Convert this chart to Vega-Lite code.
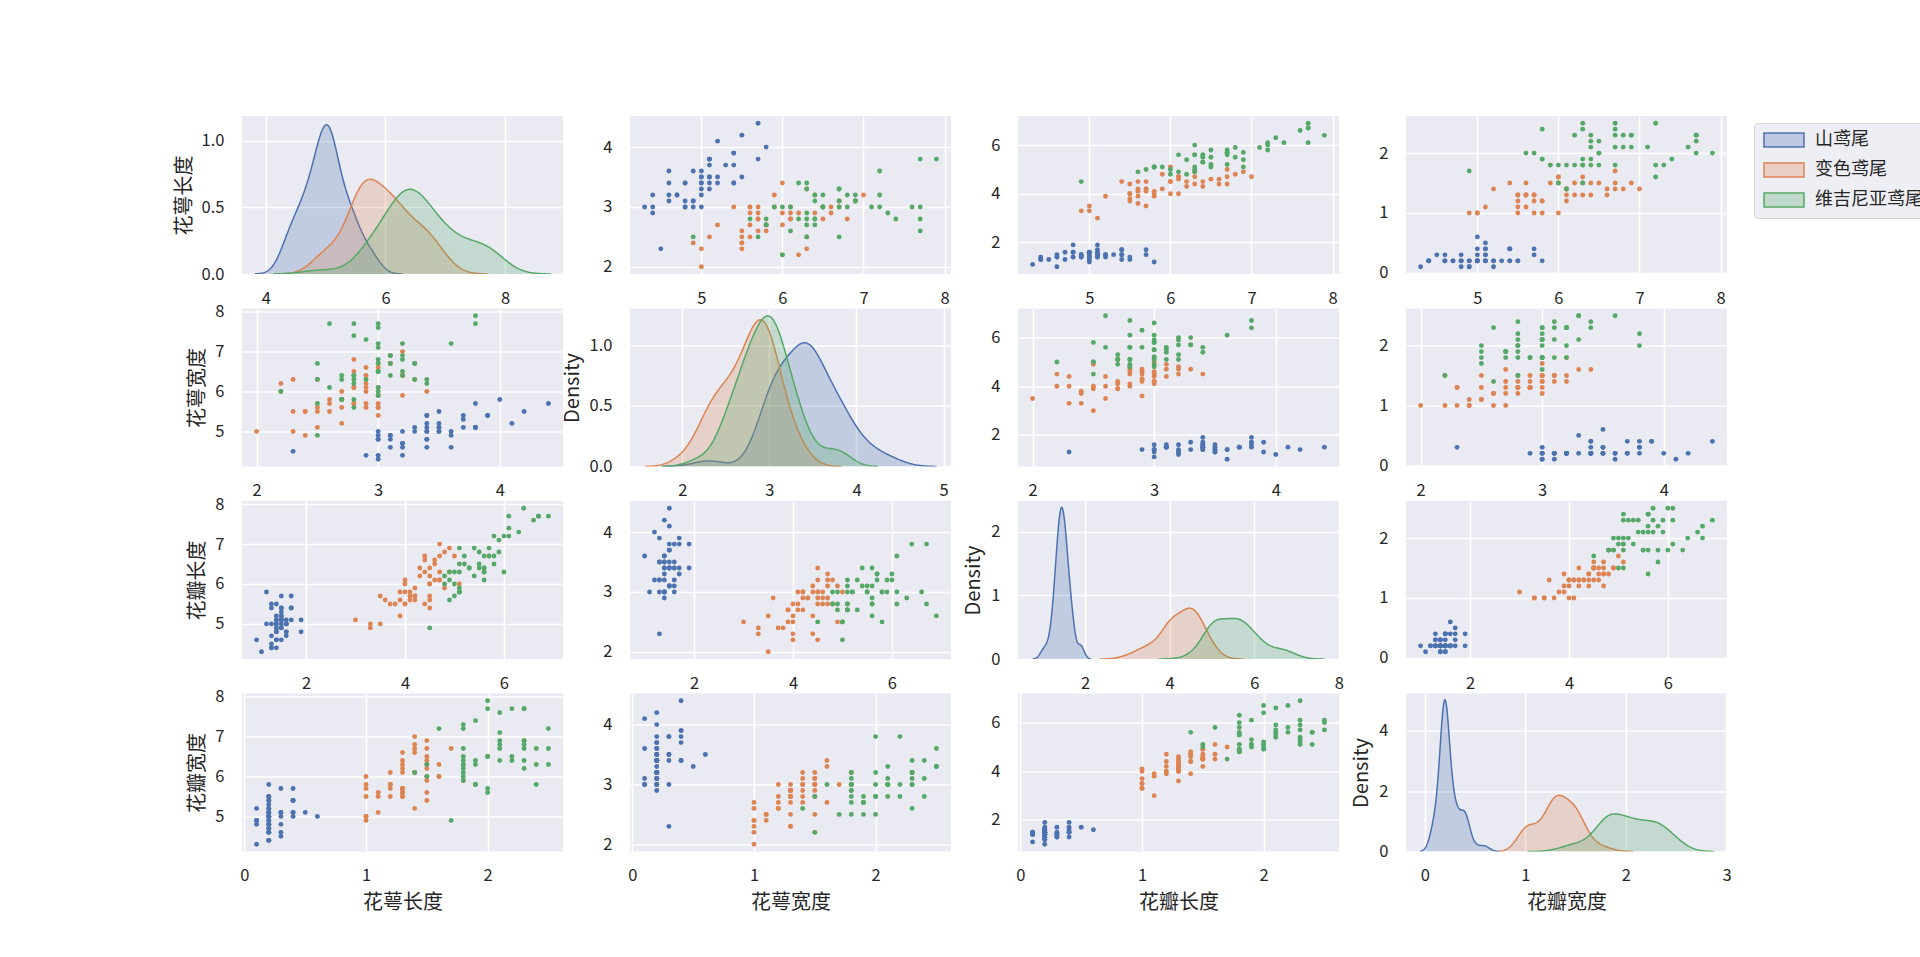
{
"$schema": "https://vega.github.io/schema/vega-lite/v6.json",
"padding": {"left": 174, "top": 116, "right": 0, "bottom": 20},
"background": "#ffffff",
"datasets": {"iris": [
{"species":"山鸢尾","sl":5.1,"sw":3.5,"pl":1.4,"pw":0.2},
{"species":"山鸢尾","sl":4.9,"sw":3.0,"pl":1.4,"pw":0.2},
{"species":"山鸢尾","sl":4.7,"sw":3.2,"pl":1.3,"pw":0.2},
{"species":"山鸢尾","sl":4.6,"sw":3.1,"pl":1.5,"pw":0.2},
{"species":"山鸢尾","sl":5.0,"sw":3.6,"pl":1.4,"pw":0.2},
{"species":"山鸢尾","sl":5.4,"sw":3.9,"pl":1.7,"pw":0.4},
{"species":"山鸢尾","sl":4.6,"sw":3.4,"pl":1.4,"pw":0.3},
{"species":"山鸢尾","sl":5.0,"sw":3.4,"pl":1.5,"pw":0.2},
{"species":"山鸢尾","sl":4.4,"sw":2.9,"pl":1.4,"pw":0.2},
{"species":"山鸢尾","sl":4.9,"sw":3.1,"pl":1.5,"pw":0.1},
{"species":"山鸢尾","sl":5.4,"sw":3.7,"pl":1.5,"pw":0.2},
{"species":"山鸢尾","sl":4.8,"sw":3.4,"pl":1.6,"pw":0.2},
{"species":"山鸢尾","sl":4.8,"sw":3.0,"pl":1.4,"pw":0.1},
{"species":"山鸢尾","sl":4.3,"sw":3.0,"pl":1.1,"pw":0.1},
{"species":"山鸢尾","sl":5.8,"sw":4.0,"pl":1.2,"pw":0.2},
{"species":"山鸢尾","sl":5.7,"sw":4.4,"pl":1.5,"pw":0.4},
{"species":"山鸢尾","sl":5.4,"sw":3.9,"pl":1.3,"pw":0.4},
{"species":"山鸢尾","sl":5.1,"sw":3.5,"pl":1.4,"pw":0.3},
{"species":"山鸢尾","sl":5.7,"sw":3.8,"pl":1.7,"pw":0.3},
{"species":"山鸢尾","sl":5.1,"sw":3.8,"pl":1.5,"pw":0.3},
{"species":"山鸢尾","sl":5.4,"sw":3.4,"pl":1.7,"pw":0.2},
{"species":"山鸢尾","sl":5.1,"sw":3.7,"pl":1.5,"pw":0.4},
{"species":"山鸢尾","sl":4.6,"sw":3.6,"pl":1.0,"pw":0.2},
{"species":"山鸢尾","sl":5.1,"sw":3.3,"pl":1.7,"pw":0.5},
{"species":"山鸢尾","sl":4.8,"sw":3.4,"pl":1.9,"pw":0.2},
{"species":"山鸢尾","sl":5.0,"sw":3.0,"pl":1.6,"pw":0.2},
{"species":"山鸢尾","sl":5.0,"sw":3.4,"pl":1.6,"pw":0.4},
{"species":"山鸢尾","sl":5.2,"sw":3.5,"pl":1.5,"pw":0.2},
{"species":"山鸢尾","sl":5.2,"sw":3.4,"pl":1.4,"pw":0.2},
{"species":"山鸢尾","sl":4.7,"sw":3.2,"pl":1.6,"pw":0.2},
{"species":"山鸢尾","sl":4.8,"sw":3.1,"pl":1.6,"pw":0.2},
{"species":"山鸢尾","sl":5.4,"sw":3.4,"pl":1.5,"pw":0.4},
{"species":"山鸢尾","sl":5.2,"sw":4.1,"pl":1.5,"pw":0.1},
{"species":"山鸢尾","sl":5.5,"sw":4.2,"pl":1.4,"pw":0.2},
{"species":"山鸢尾","sl":4.9,"sw":3.1,"pl":1.5,"pw":0.2},
{"species":"山鸢尾","sl":5.0,"sw":3.2,"pl":1.2,"pw":0.2},
{"species":"山鸢尾","sl":5.5,"sw":3.5,"pl":1.3,"pw":0.2},
{"species":"山鸢尾","sl":4.9,"sw":3.6,"pl":1.4,"pw":0.1},
{"species":"山鸢尾","sl":4.4,"sw":3.0,"pl":1.3,"pw":0.2},
{"species":"山鸢尾","sl":5.1,"sw":3.4,"pl":1.5,"pw":0.2},
{"species":"山鸢尾","sl":5.0,"sw":3.5,"pl":1.3,"pw":0.3},
{"species":"山鸢尾","sl":4.5,"sw":2.3,"pl":1.3,"pw":0.3},
{"species":"山鸢尾","sl":4.4,"sw":3.2,"pl":1.3,"pw":0.2},
{"species":"山鸢尾","sl":5.0,"sw":3.5,"pl":1.6,"pw":0.6},
{"species":"山鸢尾","sl":5.1,"sw":3.8,"pl":1.9,"pw":0.4},
{"species":"山鸢尾","sl":4.8,"sw":3.0,"pl":1.4,"pw":0.3},
{"species":"山鸢尾","sl":5.1,"sw":3.8,"pl":1.6,"pw":0.2},
{"species":"山鸢尾","sl":4.6,"sw":3.2,"pl":1.4,"pw":0.2},
{"species":"山鸢尾","sl":5.3,"sw":3.7,"pl":1.5,"pw":0.2},
{"species":"山鸢尾","sl":5.0,"sw":3.3,"pl":1.4,"pw":0.2},
{"species":"变色鸢尾","sl":7.0,"sw":3.2,"pl":4.7,"pw":1.4},
{"species":"变色鸢尾","sl":6.4,"sw":3.2,"pl":4.5,"pw":1.5},
{"species":"变色鸢尾","sl":6.9,"sw":3.1,"pl":4.9,"pw":1.5},
{"species":"变色鸢尾","sl":5.5,"sw":2.3,"pl":4.0,"pw":1.3},
{"species":"变色鸢尾","sl":6.5,"sw":2.8,"pl":4.6,"pw":1.5},
{"species":"变色鸢尾","sl":5.7,"sw":2.8,"pl":4.5,"pw":1.3},
{"species":"变色鸢尾","sl":6.3,"sw":3.3,"pl":4.7,"pw":1.6},
{"species":"变色鸢尾","sl":4.9,"sw":2.4,"pl":3.3,"pw":1.0},
{"species":"变色鸢尾","sl":6.6,"sw":2.9,"pl":4.6,"pw":1.3},
{"species":"变色鸢尾","sl":5.2,"sw":2.7,"pl":3.9,"pw":1.4},
{"species":"变色鸢尾","sl":5.0,"sw":2.0,"pl":3.5,"pw":1.0},
{"species":"变色鸢尾","sl":5.9,"sw":3.0,"pl":4.2,"pw":1.5},
{"species":"变色鸢尾","sl":6.0,"sw":2.2,"pl":4.0,"pw":1.0},
{"species":"变色鸢尾","sl":6.1,"sw":2.9,"pl":4.7,"pw":1.4},
{"species":"变色鸢尾","sl":5.6,"sw":2.9,"pl":3.6,"pw":1.3},
{"species":"变色鸢尾","sl":6.7,"sw":3.1,"pl":4.4,"pw":1.4},
{"species":"变色鸢尾","sl":5.6,"sw":3.0,"pl":4.5,"pw":1.5},
{"species":"变色鸢尾","sl":5.8,"sw":2.7,"pl":4.1,"pw":1.0},
{"species":"变色鸢尾","sl":6.2,"sw":2.2,"pl":4.5,"pw":1.5},
{"species":"变色鸢尾","sl":5.6,"sw":2.5,"pl":3.9,"pw":1.1},
{"species":"变色鸢尾","sl":5.9,"sw":3.2,"pl":4.8,"pw":1.8},
{"species":"变色鸢尾","sl":6.1,"sw":2.8,"pl":4.0,"pw":1.3},
{"species":"变色鸢尾","sl":6.3,"sw":2.5,"pl":4.9,"pw":1.5},
{"species":"变色鸢尾","sl":6.1,"sw":2.8,"pl":4.7,"pw":1.2},
{"species":"变色鸢尾","sl":6.4,"sw":2.9,"pl":4.3,"pw":1.3},
{"species":"变色鸢尾","sl":6.6,"sw":3.0,"pl":4.4,"pw":1.4},
{"species":"变色鸢尾","sl":6.8,"sw":2.8,"pl":4.8,"pw":1.4},
{"species":"变色鸢尾","sl":6.7,"sw":3.0,"pl":5.0,"pw":1.7},
{"species":"变色鸢尾","sl":6.0,"sw":2.9,"pl":4.5,"pw":1.5},
{"species":"变色鸢尾","sl":5.7,"sw":2.6,"pl":3.5,"pw":1.0},
{"species":"变色鸢尾","sl":5.5,"sw":2.4,"pl":3.8,"pw":1.1},
{"species":"变色鸢尾","sl":5.5,"sw":2.4,"pl":3.7,"pw":1.0},
{"species":"变色鸢尾","sl":5.8,"sw":2.7,"pl":3.9,"pw":1.2},
{"species":"变色鸢尾","sl":6.0,"sw":2.7,"pl":5.1,"pw":1.6},
{"species":"变色鸢尾","sl":5.4,"sw":3.0,"pl":4.5,"pw":1.5},
{"species":"变色鸢尾","sl":6.0,"sw":3.4,"pl":4.5,"pw":1.6},
{"species":"变色鸢尾","sl":6.7,"sw":3.1,"pl":4.7,"pw":1.5},
{"species":"变色鸢尾","sl":6.3,"sw":2.3,"pl":4.4,"pw":1.3},
{"species":"变色鸢尾","sl":5.6,"sw":3.0,"pl":4.1,"pw":1.3},
{"species":"变色鸢尾","sl":5.5,"sw":2.5,"pl":4.0,"pw":1.3},
{"species":"变色鸢尾","sl":5.5,"sw":2.6,"pl":4.4,"pw":1.2},
{"species":"变色鸢尾","sl":6.1,"sw":3.0,"pl":4.6,"pw":1.4},
{"species":"变色鸢尾","sl":5.8,"sw":2.6,"pl":4.0,"pw":1.2},
{"species":"变色鸢尾","sl":5.0,"sw":2.3,"pl":3.3,"pw":1.0},
{"species":"变色鸢尾","sl":5.6,"sw":2.7,"pl":4.2,"pw":1.3},
{"species":"变色鸢尾","sl":5.7,"sw":3.0,"pl":4.2,"pw":1.2},
{"species":"变色鸢尾","sl":5.7,"sw":2.9,"pl":4.2,"pw":1.3},
{"species":"变色鸢尾","sl":6.2,"sw":2.9,"pl":4.3,"pw":1.3},
{"species":"变色鸢尾","sl":5.1,"sw":2.5,"pl":3.0,"pw":1.1},
{"species":"变色鸢尾","sl":5.7,"sw":2.8,"pl":4.1,"pw":1.3},
{"species":"维吉尼亚鸢尾","sl":6.3,"sw":3.3,"pl":6.0,"pw":2.5},
{"species":"维吉尼亚鸢尾","sl":5.8,"sw":2.7,"pl":5.1,"pw":1.9},
{"species":"维吉尼亚鸢尾","sl":7.1,"sw":3.0,"pl":5.9,"pw":2.1},
{"species":"维吉尼亚鸢尾","sl":6.3,"sw":2.9,"pl":5.6,"pw":1.8},
{"species":"维吉尼亚鸢尾","sl":6.5,"sw":3.0,"pl":5.8,"pw":2.2},
{"species":"维吉尼亚鸢尾","sl":7.6,"sw":3.0,"pl":6.6,"pw":2.1},
{"species":"维吉尼亚鸢尾","sl":4.9,"sw":2.5,"pl":4.5,"pw":1.7},
{"species":"维吉尼亚鸢尾","sl":7.3,"sw":2.9,"pl":6.3,"pw":1.8},
{"species":"维吉尼亚鸢尾","sl":6.7,"sw":2.5,"pl":5.8,"pw":1.8},
{"species":"维吉尼亚鸢尾","sl":7.2,"sw":3.6,"pl":6.1,"pw":2.5},
{"species":"维吉尼亚鸢尾","sl":6.5,"sw":3.2,"pl":5.1,"pw":2.0},
{"species":"维吉尼亚鸢尾","sl":6.4,"sw":2.7,"pl":5.3,"pw":1.9},
{"species":"维吉尼亚鸢尾","sl":6.8,"sw":3.0,"pl":5.5,"pw":2.1},
{"species":"维吉尼亚鸢尾","sl":5.7,"sw":2.5,"pl":5.0,"pw":2.0},
{"species":"维吉尼亚鸢尾","sl":5.8,"sw":2.8,"pl":5.1,"pw":2.4},
{"species":"维吉尼亚鸢尾","sl":6.4,"sw":3.2,"pl":5.3,"pw":2.3},
{"species":"维吉尼亚鸢尾","sl":6.5,"sw":3.0,"pl":5.5,"pw":1.8},
{"species":"维吉尼亚鸢尾","sl":7.7,"sw":3.8,"pl":6.7,"pw":2.2},
{"species":"维吉尼亚鸢尾","sl":7.7,"sw":2.6,"pl":6.9,"pw":2.3},
{"species":"维吉尼亚鸢尾","sl":6.0,"sw":2.2,"pl":5.0,"pw":1.5},
{"species":"维吉尼亚鸢尾","sl":6.9,"sw":3.2,"pl":5.7,"pw":2.3},
{"species":"维吉尼亚鸢尾","sl":5.6,"sw":2.8,"pl":4.9,"pw":2.0},
{"species":"维吉尼亚鸢尾","sl":7.7,"sw":2.8,"pl":6.7,"pw":2.0},
{"species":"维吉尼亚鸢尾","sl":6.3,"sw":2.7,"pl":4.9,"pw":1.8},
{"species":"维吉尼亚鸢尾","sl":6.7,"sw":3.3,"pl":5.7,"pw":2.1},
{"species":"维吉尼亚鸢尾","sl":7.2,"sw":3.2,"pl":6.0,"pw":1.8},
{"species":"维吉尼亚鸢尾","sl":6.2,"sw":2.8,"pl":4.8,"pw":1.8},
{"species":"维吉尼亚鸢尾","sl":6.1,"sw":3.0,"pl":4.9,"pw":1.8},
{"species":"维吉尼亚鸢尾","sl":6.4,"sw":2.8,"pl":5.6,"pw":2.1},
{"species":"维吉尼亚鸢尾","sl":7.2,"sw":3.0,"pl":5.8,"pw":1.6},
{"species":"维吉尼亚鸢尾","sl":7.4,"sw":2.8,"pl":6.1,"pw":1.9},
{"species":"维吉尼亚鸢尾","sl":7.9,"sw":3.8,"pl":6.4,"pw":2.0},
{"species":"维吉尼亚鸢尾","sl":6.4,"sw":2.8,"pl":5.6,"pw":2.2},
{"species":"维吉尼亚鸢尾","sl":6.3,"sw":2.8,"pl":5.1,"pw":1.5},
{"species":"维吉尼亚鸢尾","sl":6.1,"sw":2.6,"pl":5.6,"pw":1.4},
{"species":"维吉尼亚鸢尾","sl":7.7,"sw":3.0,"pl":6.1,"pw":2.3},
{"species":"维吉尼亚鸢尾","sl":6.3,"sw":3.4,"pl":5.6,"pw":2.4},
{"species":"维吉尼亚鸢尾","sl":6.4,"sw":3.1,"pl":5.5,"pw":1.8},
{"species":"维吉尼亚鸢尾","sl":6.0,"sw":3.0,"pl":4.8,"pw":1.8},
{"species":"维吉尼亚鸢尾","sl":6.9,"sw":3.1,"pl":5.4,"pw":2.1},
{"species":"维吉尼亚鸢尾","sl":6.7,"sw":3.1,"pl":5.6,"pw":2.4},
{"species":"维吉尼亚鸢尾","sl":6.9,"sw":3.1,"pl":5.1,"pw":2.3},
{"species":"维吉尼亚鸢尾","sl":5.8,"sw":2.7,"pl":5.1,"pw":1.9},
{"species":"维吉尼亚鸢尾","sl":6.8,"sw":3.2,"pl":5.9,"pw":2.3},
{"species":"维吉尼亚鸢尾","sl":6.7,"sw":3.3,"pl":5.7,"pw":2.5},
{"species":"维吉尼亚鸢尾","sl":6.7,"sw":3.0,"pl":5.2,"pw":2.3},
{"species":"维吉尼亚鸢尾","sl":6.3,"sw":2.5,"pl":5.0,"pw":1.9},
{"species":"维吉尼亚鸢尾","sl":6.5,"sw":3.0,"pl":5.2,"pw":2.0},
{"species":"维吉尼亚鸢尾","sl":6.2,"sw":3.4,"pl":5.4,"pw":2.3},
{"species":"维吉尼亚鸢尾","sl":5.9,"sw":3.0,"pl":5.1,"pw":1.8}
]},
"columns": 4,
"spacing": {"row": 34.5, "column": 67},
"bounds": "flush",
"concat": [
{"width":321,"height":158,"data":{"name":"iris"},
 "encoding":{
  "x":{"field":"value","type":"quantitative","scale":{"domain":[3.6,8.97],"nice":false,"zero":false},"axis":{"values":[4,6,8],"format":"d","title":null}},
  "y":{"field":"density","type":"quantitative","scale":{"domain":[0,1.185],"nice":false,"zero":false},"axis":{"values":[0,0.5,1],"format":".1f","title":"花萼长度"}},
  "color":{"field":"species","type":"nominal","scale":{"domain":["山鸢尾","变色鸢尾","维吉尼亚鸢尾"],"range":["#4C72B0","#DD8452","#55A868"]},
    "legend":{"orient":"none","legendX":1512,"legendY":7,"title":null,"symbolType":"M-2.857,-1H2.857V1H-2.857Z","symbolSize":196,"symbolOffset":13,"symbolStrokeWidth":1.5,"labelFontSize":18,"labelFont":"Noto Sans CJK SC","labelColor":"#262626","labelOffset":22,"labelLimit":400,"rowPadding":10,"padding":8,"fillColor":"#EEEEF5","strokeColor":"#D5D5D5","cornerRadius":4,
      "encode":{"symbols":{"update":{"fillOpacity":{"value":0.3},"stroke":{"scale":"color","field":"value"},"strokeWidth":{"value":1.5}}}}}}},
 "layer":[
  {"transform":[{"filter":"datum.species === '山鸢尾'"},{"density":"sl","groupby":["species"],"bandwidth":0.1612,"extent":[3.816,6.284],"steps":200}],
   "layer":[{"mark":{"type":"area","fillOpacity":0.25,"clip":true},"encoding":{}},{"mark":{"type":"line","strokeWidth":1.5,"clip":true},"encoding":{}}]},
  {"transform":[{"filter":"datum.species === '变色鸢尾'"},{"density":"sl","groupby":["species"],"bandwidth":0.2361,"extent":[4.192,7.708],"steps":200}],
   "layer":[{"mark":{"type":"area","fillOpacity":0.25,"clip":true},"encoding":{}},{"mark":{"type":"line","strokeWidth":1.5,"clip":true},"encoding":{}}]},
  {"transform":[{"filter":"datum.species === '维吉尼亚鸢尾'"},{"density":"sl","groupby":["species"],"bandwidth":0.2908,"extent":[4.128,8.772],"steps":200}],
   "layer":[{"mark":{"type":"area","fillOpacity":0.25,"clip":true},"encoding":{}},{"mark":{"type":"line","strokeWidth":1.5,"clip":true},"encoding":{}}]}
 ]},
{"width":321,"height":158,"data":{"name":"iris"},"mark":{"type":"circle","size":24,"opacity":1},
 "encoding":{
  "x":{"field":"sl","type":"quantitative","scale":{"domain":[4.12,8.08],"nice":false,"zero":false},"axis":{"values":[5,6,7,8],"format":"d","title":null}},
  "y":{"field":"sw","type":"quantitative","scale":{"domain":[1.88,4.52],"nice":false,"zero":false},"axis":{"values":[2,3,4],"format":"d","title":null}},
  "color":{"field":"species","type":"nominal","scale":{"domain":["山鸢尾","变色鸢尾","维吉尼亚鸢尾"],"range":["#4C72B0","#DD8452","#55A868"]},"legend":null}}},
{"width":321,"height":158,"data":{"name":"iris"},"mark":{"type":"circle","size":24,"opacity":1},
 "encoding":{
  "x":{"field":"sl","type":"quantitative","scale":{"domain":[4.12,8.08],"nice":false,"zero":false},"axis":{"values":[5,6,7,8],"format":"d","title":null}},
  "y":{"field":"pl","type":"quantitative","scale":{"domain":[0.705,7.195],"nice":false,"zero":false},"axis":{"values":[2,4,6],"format":"d","title":null}},
  "color":{"field":"species","type":"nominal","scale":{"domain":["山鸢尾","变色鸢尾","维吉尼亚鸢尾"],"range":["#4C72B0","#DD8452","#55A868"]},"legend":null}}},
{"width":321,"height":158,"data":{"name":"iris"},"mark":{"type":"circle","size":24,"opacity":1},
 "encoding":{
  "x":{"field":"sl","type":"quantitative","scale":{"domain":[4.12,8.08],"nice":false,"zero":false},"axis":{"values":[5,6,7,8],"format":"d","title":null}},
  "y":{"field":"pw","type":"quantitative","scale":{"domain":[-0.02,2.62],"nice":false,"zero":false},"axis":{"values":[0,1,2],"format":"d","title":null}},
  "color":{"field":"species","type":"nominal","scale":{"domain":["山鸢尾","变色鸢尾","维吉尼亚鸢尾"],"range":["#4C72B0","#DD8452","#55A868"]},"legend":null}}},
{"width":321,"height":158,"data":{"name":"iris"},"mark":{"type":"circle","size":24,"opacity":1},
 "encoding":{
  "x":{"field":"sw","type":"quantitative","scale":{"domain":[1.88,4.52],"nice":false,"zero":false},"axis":{"values":[2,3,4],"format":"d","title":null}},
  "y":{"field":"sl","type":"quantitative","scale":{"domain":[4.12,8.08],"nice":false,"zero":false},"axis":{"values":[5,6,7,8],"format":"d","title":"花萼宽度"}},
  "color":{"field":"species","type":"nominal","scale":{"domain":["山鸢尾","变色鸢尾","维吉尼亚鸢尾"],"range":["#4C72B0","#DD8452","#55A868"]},"legend":null}}},
{"width":321,"height":158,"data":{"name":"iris"},
 "encoding":{
  "x":{"field":"value","type":"quantitative","scale":{"domain":[1.4,5.085],"nice":false,"zero":false},"axis":{"values":[2,3,4,5],"format":"d","title":null}},
  "y":{"field":"density","type":"quantitative","scale":{"domain":[0,1.305],"nice":false,"zero":false},"axis":{"values":[0,0.5,1],"format":".1f","title":"Density"}},
  "color":{"field":"species","type":"nominal","scale":{"domain":["山鸢尾","变色鸢尾","维吉尼亚鸢尾"],"range":["#4C72B0","#DD8452","#55A868"]},"legend":null}},
 "layer":[
  {"transform":[{"filter":"datum.species === '山鸢尾'"},{"density":"sw","groupby":["species"],"bandwidth":0.1734,"extent":[1.78,4.92],"steps":200}],
   "layer":[{"mark":{"type":"area","fillOpacity":0.25,"clip":true},"encoding":{}},{"mark":{"type":"line","strokeWidth":1.5,"clip":true},"encoding":{}}]},
  {"transform":[{"filter":"datum.species === '变色鸢尾'"},{"density":"sw","groupby":["species"],"bandwidth":0.1435,"extent":[1.57,3.831],"steps":200}],
   "layer":[{"mark":{"type":"area","fillOpacity":0.25,"clip":true},"encoding":{}},{"mark":{"type":"line","strokeWidth":1.5,"clip":true},"encoding":{}}]},
  {"transform":[{"filter":"datum.species === '维吉尼亚鸢尾'"},{"density":"sw","groupby":["species"],"bandwidth":0.1475,"extent":[1.758,4.243],"steps":200}],
   "layer":[{"mark":{"type":"area","fillOpacity":0.25,"clip":true},"encoding":{}},{"mark":{"type":"line","strokeWidth":1.5,"clip":true},"encoding":{}}]}
 ]},
{"width":321,"height":158,"data":{"name":"iris"},"mark":{"type":"circle","size":24,"opacity":1},
 "encoding":{
  "x":{"field":"sw","type":"quantitative","scale":{"domain":[1.88,4.52],"nice":false,"zero":false},"axis":{"values":[2,3,4],"format":"d","title":null}},
  "y":{"field":"pl","type":"quantitative","scale":{"domain":[0.705,7.195],"nice":false,"zero":false},"axis":{"values":[2,4,6],"format":"d","title":null}},
  "color":{"field":"species","type":"nominal","scale":{"domain":["山鸢尾","变色鸢尾","维吉尼亚鸢尾"],"range":["#4C72B0","#DD8452","#55A868"]},"legend":null}}},
{"width":321,"height":158,"data":{"name":"iris"},"mark":{"type":"circle","size":24,"opacity":1},
 "encoding":{
  "x":{"field":"sw","type":"quantitative","scale":{"domain":[1.88,4.52],"nice":false,"zero":false},"axis":{"values":[2,3,4],"format":"d","title":null}},
  "y":{"field":"pw","type":"quantitative","scale":{"domain":[-0.02,2.62],"nice":false,"zero":false},"axis":{"values":[0,1,2],"format":"d","title":null}},
  "color":{"field":"species","type":"nominal","scale":{"domain":["山鸢尾","变色鸢尾","维吉尼亚鸢尾"],"range":["#4C72B0","#DD8452","#55A868"]},"legend":null}}},
{"width":321,"height":158,"data":{"name":"iris"},"mark":{"type":"circle","size":24,"opacity":1},
 "encoding":{
  "x":{"field":"pl","type":"quantitative","scale":{"domain":[0.705,7.195],"nice":false,"zero":false},"axis":{"values":[2,4,6],"format":"d","title":null}},
  "y":{"field":"sl","type":"quantitative","scale":{"domain":[4.12,8.08],"nice":false,"zero":false},"axis":{"values":[5,6,7,8],"format":"d","title":"花瓣长度"}},
  "color":{"field":"species","type":"nominal","scale":{"domain":["山鸢尾","变色鸢尾","维吉尼亚鸢尾"],"range":["#4C72B0","#DD8452","#55A868"]},"legend":null}}},
{"width":321,"height":158,"data":{"name":"iris"},"mark":{"type":"circle","size":24,"opacity":1},
 "encoding":{
  "x":{"field":"pl","type":"quantitative","scale":{"domain":[0.705,7.195],"nice":false,"zero":false},"axis":{"values":[2,4,6],"format":"d","title":null}},
  "y":{"field":"sw","type":"quantitative","scale":{"domain":[1.88,4.52],"nice":false,"zero":false},"axis":{"values":[2,3,4],"format":"d","title":null}},
  "color":{"field":"species","type":"nominal","scale":{"domain":["山鸢尾","变色鸢尾","维吉尼亚鸢尾"],"range":["#4C72B0","#DD8452","#55A868"]},"legend":null}}},
{"width":321,"height":158,"data":{"name":"iris"},
 "encoding":{
  "x":{"field":"value","type":"quantitative","scale":{"domain":[0.416,8.002],"nice":false,"zero":false},"axis":{"values":[2,4,6,8],"format":"d","title":null}},
  "y":{"field":"density","type":"quantitative","scale":{"domain":[0,2.485],"nice":false,"zero":false},"axis":{"values":[0,1,2],"format":"d","title":"Density"}},
  "color":{"field":"species","type":"nominal","scale":{"domain":["山鸢尾","变色鸢尾","维吉尼亚鸢尾"],"range":["#4C72B0","#DD8452","#55A868"]},"legend":null}},
 "layer":[
  {"transform":[{"filter":"datum.species === '山鸢尾'"},{"density":"pl","groupby":["species"],"bandwidth":0.0794,"extent":[0.762,2.138],"steps":200}],
   "layer":[{"mark":{"type":"area","fillOpacity":0.25,"clip":true},"encoding":{}},{"mark":{"type":"line","strokeWidth":1.5,"clip":true},"encoding":{}}]},
  {"transform":[{"filter":"datum.species === '变色鸢尾'"},{"density":"pl","groupby":["species"],"bandwidth":0.2149,"extent":[2.355,5.745],"steps":200}],
   "layer":[{"mark":{"type":"area","fillOpacity":0.25,"clip":true},"encoding":{}},{"mark":{"type":"line","strokeWidth":1.5,"clip":true},"encoding":{}}]},
  {"transform":[{"filter":"datum.species === '维吉尼亚鸢尾'"},{"density":"pl","groupby":["species"],"bandwidth":0.2524,"extent":[3.743,7.657],"steps":200}],
   "layer":[{"mark":{"type":"area","fillOpacity":0.25,"clip":true},"encoding":{}},{"mark":{"type":"line","strokeWidth":1.5,"clip":true},"encoding":{}}]}
 ]},
{"width":321,"height":158,"data":{"name":"iris"},"mark":{"type":"circle","size":24,"opacity":1},
 "encoding":{
  "x":{"field":"pl","type":"quantitative","scale":{"domain":[0.705,7.195],"nice":false,"zero":false},"axis":{"values":[2,4,6],"format":"d","title":null}},
  "y":{"field":"pw","type":"quantitative","scale":{"domain":[-0.02,2.62],"nice":false,"zero":false},"axis":{"values":[0,1,2],"format":"d","title":null}},
  "color":{"field":"species","type":"nominal","scale":{"domain":["山鸢尾","变色鸢尾","维吉尼亚鸢尾"],"range":["#4C72B0","#DD8452","#55A868"]},"legend":null}}},
{"width":321,"height":158,"data":{"name":"iris"},"mark":{"type":"circle","size":24,"opacity":1},
 "encoding":{
  "x":{"field":"pw","type":"quantitative","scale":{"domain":[-0.02,2.62],"nice":false,"zero":false},"axis":{"values":[0,1,2],"format":"d","title":"花萼长度"}},
  "y":{"field":"sl","type":"quantitative","scale":{"domain":[4.12,8.08],"nice":false,"zero":false},"axis":{"values":[5,6,7,8],"format":"d","title":"花瓣宽度"}},
  "color":{"field":"species","type":"nominal","scale":{"domain":["山鸢尾","变色鸢尾","维吉尼亚鸢尾"],"range":["#4C72B0","#DD8452","#55A868"]},"legend":null}}},
{"width":321,"height":158,"data":{"name":"iris"},"mark":{"type":"circle","size":24,"opacity":1},
 "encoding":{
  "x":{"field":"pw","type":"quantitative","scale":{"domain":[-0.02,2.62],"nice":false,"zero":false},"axis":{"values":[0,1,2],"format":"d","title":"花萼宽度"}},
  "y":{"field":"sw","type":"quantitative","scale":{"domain":[1.88,4.52],"nice":false,"zero":false},"axis":{"values":[2,3,4],"format":"d","title":null}},
  "color":{"field":"species","type":"nominal","scale":{"domain":["山鸢尾","变色鸢尾","维吉尼亚鸢尾"],"range":["#4C72B0","#DD8452","#55A868"]},"legend":null}}},
{"width":321,"height":158,"data":{"name":"iris"},"mark":{"type":"circle","size":24,"opacity":1},
 "encoding":{
  "x":{"field":"pw","type":"quantitative","scale":{"domain":[-0.02,2.62],"nice":false,"zero":false},"axis":{"values":[0,1,2],"format":"d","title":"花瓣长度"}},
  "y":{"field":"pl","type":"quantitative","scale":{"domain":[0.705,7.195],"nice":false,"zero":false},"axis":{"values":[2,4,6],"format":"d","title":null}},
  "color":{"field":"species","type":"nominal","scale":{"domain":["山鸢尾","变色鸢尾","维吉尼亚鸢尾"],"range":["#4C72B0","#DD8452","#55A868"]},"legend":null}}},
{"width":321,"height":158,"data":{"name":"iris"},
 "encoding":{
  "x":{"field":"value","type":"quantitative","scale":{"domain":[-0.186,3.005],"nice":false,"zero":false},"axis":{"values":[0,1,2,3],"format":"d","title":"花瓣宽度"}},
  "y":{"field":"density","type":"quantitative","scale":{"domain":[0,5.24],"nice":false,"zero":false},"axis":{"values":[0,2,4],"format":"d","title":"Density"}},
  "color":{"field":"species","type":"nominal","scale":{"domain":["山鸢尾","变色鸢尾","维吉尼亚鸢尾"],"range":["#4C72B0","#DD8452","#55A868"]},"legend":null}},
 "layer":[
  {"transform":[{"filter":"datum.species === '山鸢尾'"},{"density":"pw","groupby":["species"],"bandwidth":0.0482,"extent":[-0.045,0.745],"steps":200}],
   "layer":[{"mark":{"type":"area","fillOpacity":0.25,"clip":true},"encoding":{}},{"mark":{"type":"line","strokeWidth":1.5,"clip":true},"encoding":{}}]},
  {"transform":[{"filter":"datum.species === '变色鸢尾'"},{"density":"pw","groupby":["species"],"bandwidth":0.0905,"extent":[0.729,2.072],"steps":200}],
   "layer":[{"mark":{"type":"area","fillOpacity":0.25,"clip":true},"encoding":{}},{"mark":{"type":"line","strokeWidth":1.5,"clip":true},"encoding":{}}]},
  {"transform":[{"filter":"datum.species === '维吉尼亚鸢尾'"},{"density":"pw","groupby":["species"],"bandwidth":0.1256,"extent":[1.023,2.877],"steps":200}],
   "layer":[{"mark":{"type":"area","fillOpacity":0.25,"clip":true},"encoding":{}},{"mark":{"type":"line","strokeWidth":1.5,"clip":true},"encoding":{}}]}
 ]}
],
"config": {
 "view": {"fill": "#EAEAF2", "stroke": null},
 "font": "Noto Sans CJK SC",
 "axis": {"domain": false, "ticks": false, "tickSize": 0, "grid": true, "gridColor": "#FFFFFF", "gridWidth": 1.6, "gridOpacity": 1,
   "labelFont": "Noto Sans CJK SC", "labelFontSize": 16.5, "labelColor": "#262626", "labelOverlap": false, "labelFlush": false, "labelBound": false,
   "titleFont": "Noto Sans CJK SC", "titleFontSize": 20, "titleFontWeight": "normal", "titleColor": "#262626"},
 "axisX": {"labelPadding": 16, "titlePadding": 8},
 "axisY": {"labelPadding": 18, "titlePadding": 7}
}
}
